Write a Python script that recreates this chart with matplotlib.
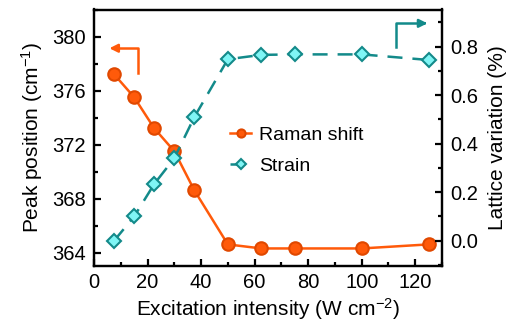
import matplotlib
matplotlib.use("Agg")
import matplotlib.pyplot as plt
from matplotlib.ticker import MultipleLocator

plt.rcParams['font.family'] = ['Liberation Sans', 'DejaVu Sans']
plt.rcParams['mathtext.fontset'] = 'custom'
plt.rcParams['mathtext.rm'] = 'Liberation Sans'
plt.rcParams['mathtext.it'] = 'Liberation Sans'

intensity = [7.5, 15, 22.5, 30, 37.5, 50, 62.5, 75, 100, 125]
raman = [377.2, 375.5, 373.2, 371.5, 368.6, 364.6, 364.3, 364.3, 364.3, 364.6]
strain = [0.0, 0.10, 0.234, 0.34, 0.51, 0.748, 0.766, 0.768, 0.768, 0.745]

orange = '#FF5A0A'
orange_edge = '#E04800'
teal = '#138A8A'
cyan = '#7FF5F5'

fig = plt.figure(figsize=(5.10, 3.26), dpi=100)
ax = fig.add_axes([94/510, 1-266/326, (442-94)/510, (266-9.5)/326])
ax2 = ax.twinx()

l1, = ax.plot(intensity, raman, '-o', color=orange, lw=1.8, ms=9,
              mfc=orange, mec=orange_edge, mew=1.5, label='Raman shift', zorder=3)
l2, = ax2.plot(intensity, strain, '--D', color=teal, lw=1.8, ms=7.5,
               mfc=cyan, mec=teal, mew=1.5, dashes=(6, 4), label='Strain', zorder=3)

ax.set_xlim(0, 130)
ax.set_ylim(363, 382)
ax2.set_ylim(-0.104, 0.953)

ax.xaxis.set_major_locator(MultipleLocator(20))
ax.xaxis.set_minor_locator(MultipleLocator(10))
ax.yaxis.set_major_locator(MultipleLocator(4))
ax.yaxis.set_minor_locator(MultipleLocator(2))
ax2.yaxis.set_major_locator(MultipleLocator(0.2))
ax2.yaxis.set_minor_locator(MultipleLocator(0.1))
ax2.set_yticks([0.0, 0.2, 0.4, 0.6, 0.8])
ax2.set_yticklabels(['0.0', '0.2', '0.4', '0.6', '0.8'])

for a in (ax, ax2):
    for s in a.spines.values():
        s.set_linewidth(1.6)
    a.tick_params(which='major', direction='in', length=5, width=1.6, labelsize=14.5, pad=6)
    a.tick_params(which='minor', direction='in', length=3, width=1.6)
ax.tick_params(axis='y', which='both', right=False)
ax.tick_params(axis='x', which='both', top=False, pad=5)

ax.set_xlabel('Excitation intensity (W cm$^{-2}$)', fontsize=15, labelpad=3)
ax.set_ylabel('Peak position (cm$^{-1}$)', fontsize=15, labelpad=5)
ax2.set_ylabel('Lattice variation (%)', fontsize=15, labelpad=7)

# direction arrows
ax.plot([16.5, 16.5, 8.0], [377.26, 379.13, 379.13], color=orange, lw=1.8, clip_on=False)
ax.annotate('', xy=(4.7, 379.13), xytext=(9.0, 379.13),
            arrowprops=dict(arrowstyle='-|>', color=orange, lw=1.8, mutation_scale=12))
ax2.plot([112.7, 112.7, 123.0], [0.80, 0.896, 0.896], color=teal, lw=1.8, clip_on=False)
ax2.annotate('', xy=(125.6, 0.896), xytext=(121.5, 0.896),
             arrowprops=dict(arrowstyle='-|>', color=teal, lw=1.8, mutation_scale=12))

leg = ax.legend([l1, l2], ['Raman shift', 'Strain'], loc='center left',
                bbox_to_anchor=(0.34, 0.45), frameon=False, fontsize=14,
                handlelength=1.1, handletextpad=0.4, labelspacing=0.65,
                markerscale=0.65)

fig.savefig('out.png', dpi=100)
